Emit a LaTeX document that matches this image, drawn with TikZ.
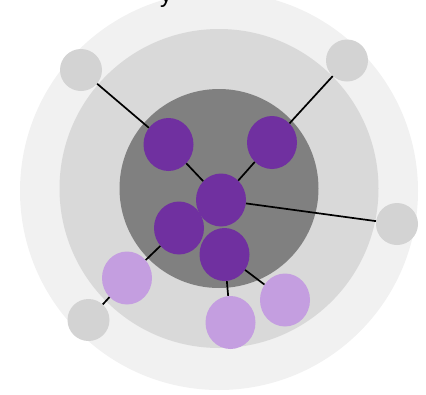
\documentclass[tikz,border=0pt]{standalone}
\usepackage{fontspec}
\setmainfont{Liberation Sans}
\usetikzlibrary{shapes.geometric}
\definecolor{ringA}{HTML}{F1F1F1}
\definecolor{ringB}{HTML}{D9D9D9}
\definecolor{ringC}{HTML}{808080}
\definecolor{darkp}{HTML}{7030A0}
\definecolor{lightp}{HTML}{C49EE0}
\definecolor{greyn}{HTML}{D3D3D3}
\tikzset{
  ring/.style={draw=none},
  core/.style={ellipse, fill=darkp, draw=none, minimum width=50pt, minimum height=53pt, inner sep=0pt},
  mid/.style={ellipse, fill=lightp, draw=none, minimum width=50pt, minimum height=53pt, inner sep=0pt},
  outer/.style={ellipse, fill=greyn, draw=none, minimum width=42pt, minimum height=42pt, inner sep=0pt},
  link/.style={draw=black, line width=1.7pt},
}
\begin{document}
\begin{tikzpicture}[x=1pt,y=-1pt]
\useasboundingbox (0,0) rectangle (426,394);
\fill[ringA] (219,191) circle (199);
\fill[ringB] (219,188.5) circle (159.5);
\fill[ringC] (219,188.5) circle (99.5);
\node[anchor=base, font=\fontsize{24}{28}\selectfont, inner sep=0pt] (title) at (166,2) {y};
% nodes
\node[core] (a) at (168.5,144.5) {};
\node[core] (b) at (272,142.5) {};
\node[core] (c) at (221,200) {};
\node[core] (d) at (179,228) {};
\node[core] (e) at (224.5,254.5) {};
\node[mid] (f) at (127,278) {};
\node[mid] (g) at (230.5,322.5) {};
\node[mid] (h) at (285,300) {};
\node[outer] (tl) at (81,70) {};
\node[outer] (tr) at (347,60.5) {};
\node[outer] (r) at (397,224) {};
\node[outer] (bl) at (88.5,320) {};
% links
\draw[link] (tl) -- (a);
\draw[link] (tr) -- (b);
\draw[link] (a) -- (c);
\draw[link] (b) -- (c);
\draw[link] (c) -- (r);
\draw[link] (d) -- (f);
\draw[link] (f) -- (bl);
\draw[link] (e) -- (g);
\draw[link] (e) -- (h);
\end{tikzpicture}
\end{document}
